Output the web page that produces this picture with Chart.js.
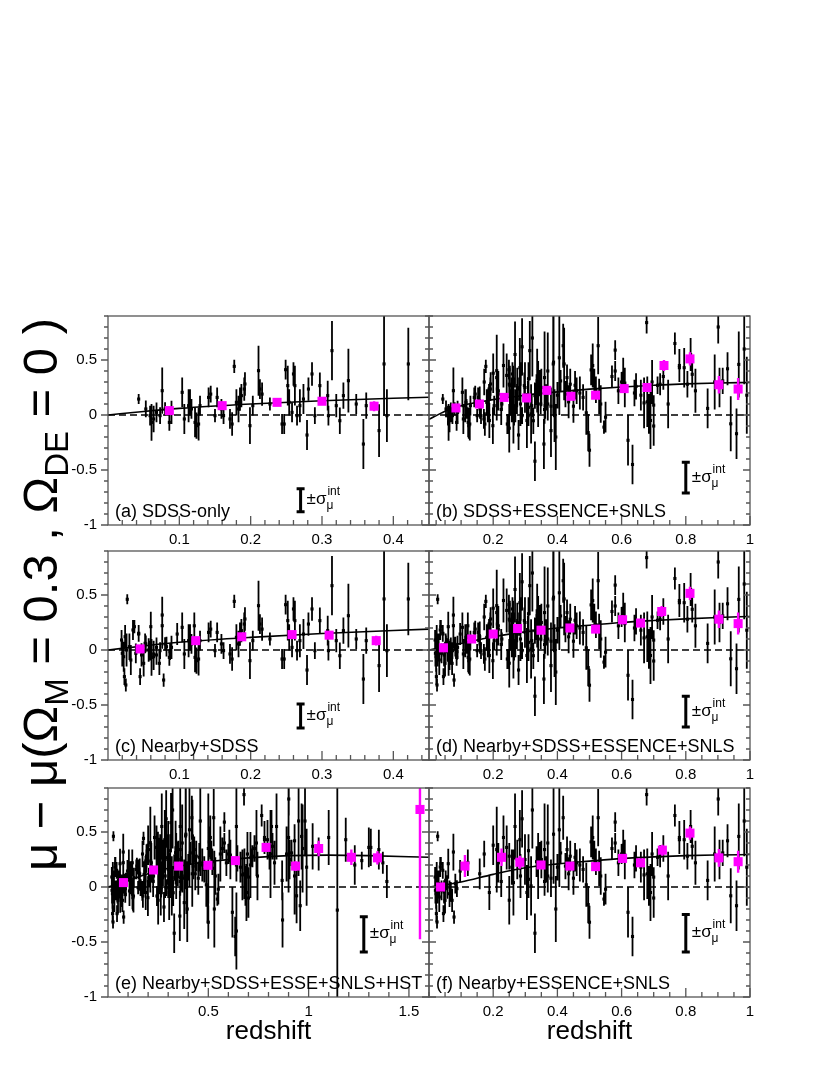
<!DOCTYPE html>
<html>
<head>
<meta charset="utf-8">
<script src="https://cdn.jsdelivr.net/npm/chart.js@4.4.1/dist/chart.umd.min.js"></script>
<style>
body { margin: 0; background: #fff; }
#wrap { position: relative; width: 830px; height: 1075px; }
#wrap canvas { position: absolute; left: 0; top: 0; }
</style>
</head>
<body>
<div id="wrap">
  <canvas id="pa" width="830" height="1075"></canvas>
  <canvas id="pb" width="830" height="1075"></canvas>
  <canvas id="pc" width="830" height="1075"></canvas>
  <canvas id="pd" width="830" height="1075"></canvas>
  <canvas id="pe" width="830" height="1075"></canvas>
  <canvas id="pf" width="830" height="1075"></canvas>
</div>
<script>
// samples: [redshift, mu residual, error]
const nearby = [
  [0.019,0.091,0.09],[0.020,-0.03,0.12],[0.022,-0.061,0.136],[0.023,-0.242,0.076],[0.024,0.121,0.106],
  [0.025,-0.318,0.06],[0.026,0.0,0.15],[0.027,0.461,0.045],[0.030,0.03,0.12],[0.032,-0.091,0.136],
  [0.035,0.182,0.09],[0.037,0.212,0.06],[0.039,-0.03,0.09],[0.043,0.152,0.076],[0.045,-0.242,0.076],
  [0.047,-0.045,0.106],[0.050,-0.121,0.12],[0.052,0.061,0.09],[0.057,0.0,0.106],[0.060,0.212,0.136],
  [0.064,-0.061,0.12],[0.068,-0.045,0.09],[0.072,-0.121,0.106],[0.076,0.318,0.167],[0.078,-0.273,0.06],
  [0.082,0.03,0.09],[0.087,-0.015,0.076],[0.097,0.145,0.10],[0.121,0.22,0.12]
];
const sdss = [
  [0.043,0.145,0.045],[0.053,0.055,0.076],[0.059,-0.006,0.09],[0.061,-0.067,0.167],[0.064,-0.036,0.12],
  [0.068,0.024,0.09],[0.073,-0.006,0.076],[0.076,0.221,0.21],[0.080,0.055,0.06],[0.086,-0.067,0.076],
  [0.089,0.024,0.106],[0.104,0.206,0.136],[0.107,-0.036,0.136],[0.113,0.085,0.15],[0.115,0.115,0.12],
  [0.117,0.055,0.09],[0.122,-0.067,0.136],[0.124,-0.097,0.12],[0.127,-0.082,0.15],[0.129,0.085,0.09],
  [0.141,0.16,0.09],[0.144,0.19,0.076],[0.150,-0.006,0.06],[0.153,0.16,0.09],[0.159,0.055,0.09],
  [0.162,-0.006,0.076],[0.171,-0.036,0.09],[0.174,-0.082,0.106],[0.177,0.442,0.06],[0.180,0.115,0.12],
  [0.183,0.055,0.12],[0.185,0.145,0.106],[0.187,0.176,0.106],[0.191,0.236,0.106],[0.192,0.282,0.106],
  [0.199,-0.097,0.167],[0.203,0.085,0.09],[0.211,0.403,0.227],[0.213,0.236,0.09],[0.216,0.19,0.106],
  [0.227,0.1,0.06],[0.244,-0.082,0.09],[0.247,-0.082,0.09],[0.249,0.412,0.09],[0.252,0.267,0.18],
  [0.254,0.115,0.12],[0.258,0.024,0.09],[0.260,0.373,0.106],[0.262,0.267,0.18],[0.265,-0.006,0.09],
  [0.269,0.085,0.15],[0.274,0.145,0.136],[0.279,-0.182,0.136],[0.281,0.236,0.106],[0.286,0.373,0.106],
  [0.290,-0.006,0.076],[0.297,0.267,0.12],[0.308,0.176,0.136],[0.309,-0.006,0.09],[0.314,0.585,0.27],
  [0.320,0.085,0.106],[0.325,-0.052,0.12],[0.330,0.176,0.12],[0.337,0.312,0.29],[0.348,0.1,0.09],
  [0.358,-0.264,0.227],[0.362,0.085,0.12],[0.380,-0.142,0.24],[0.387,0.464,0.47],[0.391,-0.006,0.24],
  [0.421,0.464,0.33]
];
const essence = [
  [0.158,0.12,0.14],[0.172,0.30,0.12],[0.188,-0.05,0.16],[0.200,0.38,0.18],[0.211,0.34,0.39],
  [0.216,0.22,0.18],[0.225,0.05,0.14],[0.232,0.45,0.20],[0.242,0.36,0.20],[0.250,-0.12,0.22],
  [0.258,0.18,0.16],[0.263,0.04,0.30],[0.268,0.55,0.30],[0.275,0.25,0.18],[0.283,0.43,0.27],
  [0.290,0.62,0.26],[0.299,0.25,0.23],[0.305,-0.05,0.25],[0.310,0.07,0.17],[0.318,0.01,0.27],
  [0.322,0.70,0.35],[0.330,-0.42,0.18],[0.335,0.23,0.14],[0.340,0.19,0.30],[0.345,0.29,0.12],
  [0.350,0.25,0.17],[0.360,0.34,0.42],[0.365,0.16,0.12],[0.370,0.10,0.15],[0.380,0.08,0.17],
  [0.388,0.48,0.45],[0.395,-0.20,0.30],[0.406,0.52,0.52],[0.410,0.31,0.10],[0.418,0.63,0.20],
  [0.425,0.19,0.12],[0.435,0.12,0.15],[0.440,0.28,0.14],[0.450,0.08,0.15],[0.460,0.22,0.12],
  [0.480,0.16,0.12],[0.496,-0.16,0.17],[0.500,-0.32,0.15],[0.505,0.41,0.14],[0.510,0.45,0.20],
  [0.515,0.30,0.12],[0.527,0.63,0.26],[0.535,0.10,0.17],[0.545,-0.11,0.06],[0.580,0.59,0.09],
  [0.610,0.29,0.14],[0.640,0.20,0.12],[0.680,0.12,0.23],[0.700,-0.10,0.18],[0.720,0.28,0.10],
  [0.780,0.45,0.15]
];
const snls = [
  [0.250,0.28,0.12],[0.285,0.10,0.20],[0.310,0.33,0.15],[0.340,0.22,0.10],[0.360,0.05,0.12],
  [0.370,0.40,0.35],[0.400,0.18,0.12],[0.430,0.34,0.12],[0.455,0.27,0.13],[0.470,0.20,0.15],
  [0.490,0.02,0.20],[0.520,0.23,0.12],[0.530,0.17,0.16],[0.550,-0.02,0.14],[0.570,0.35,0.10],
  [0.580,0.40,0.09],[0.590,0.22,0.12],[0.600,0.30,0.09],[0.605,0.38,0.14],[0.610,0.24,0.17],
  [0.620,-0.23,0.23],[0.634,-0.45,0.18],[0.645,0.26,0.12],[0.660,0.18,0.14],[0.670,0.11,0.23],
  [0.678,0.84,0.10],[0.685,0.01,0.18],[0.690,-0.05,0.26],[0.695,0.30,0.20],[0.700,0.09,0.09],
  [0.712,0.27,0.08],[0.730,0.35,0.12],[0.745,0.10,0.22],[0.766,0.65,0.10],[0.780,0.43,0.10],
  [0.795,0.43,0.18],[0.805,0.28,0.12],[0.815,0.55,0.15],[0.820,0.37,0.12],[0.830,0.22,0.20],
  [0.868,0.06,0.18],[0.890,0.30,0.25],[0.901,0.80,0.15],[0.905,0.25,0.18],[0.915,0.31,0.12],
  [0.930,0.42,0.15],[0.940,-0.08,0.25],[0.958,-0.17,0.23],[0.965,0.46,0.30],[0.982,0.60,0.32],
  [0.990,0.18,0.35]
];
const hst = [
  [0.30,0.25,0.35],[0.36,0.55,0.40],[0.42,0.12,0.30],[0.46,0.60,0.45],[0.50,0.35,0.50],
  [0.53,-0.20,0.35],[0.56,0.30,0.25],[0.64,-0.40,0.35],[0.64,0.55,0.50],[0.71,0.20,0.30],
  [0.74,0.40,0.30],[0.81,0.30,0.40],[0.84,0.55,0.30],[0.87,-0.30,0.25],[0.90,0.45,0.50],
  [0.93,0.10,0.35],[0.95,0.60,0.50],[0.97,0.35,0.40],[1.02,0.37,0.21],[1.05,0.30,0.15],
  [1.10,0.45,0.25],[1.143,-0.21,1.2],[1.185,0.43,0.20],[1.23,0.20,0.18],[1.265,0.24,0.08],
  [1.30,0.36,0.18],[1.31,0.36,0.17],[1.35,0.34,0.18],[1.37,0.22,0.10],[1.39,0.05,0.15],
  [1.555,0.70,0.25]
];

// binned averages (magenta): [redshift, mean, error]
const binsA = [[0.086,0.04,0.02],[0.16,0.085,0.02],[0.237,0.115,0.02],[0.30,0.125,0.025],[0.373,0.08,0.045]];
const binsB = [[0.084,0.064,0.02],[0.157,0.10,0.02],[0.234,0.16,0.02],[0.304,0.155,0.02],[0.367,0.224,0.02],
  [0.442,0.17,0.025],[0.519,0.18,0.025],[0.608,0.24,0.035],[0.679,0.25,0.035],[0.732,0.45,0.05],
  [0.813,0.51,0.06],[0.903,0.275,0.08],[0.963,0.236,0.1]];
const binsC = [[0.045,0.01,0.015],[0.123,0.085,0.02],[0.1875,0.12,0.02],[0.258,0.14,0.02],[0.31,0.135,0.025],[0.376,0.085,0.045]];
const binsD = [[0.045,0.02,0.015],[0.133,0.10,0.02],[0.20,0.145,0.02],[0.276,0.195,0.02],[0.349,0.18,0.02],
  [0.439,0.20,0.025],[0.519,0.19,0.025],[0.603,0.275,0.04],[0.659,0.245,0.03],[0.725,0.35,0.05],
  [0.813,0.515,0.06],[0.903,0.28,0.08],[0.963,0.24,0.1]];
const binsE = [[0.077,0.04,0.015],[0.227,0.155,0.02],[0.352,0.19,0.02],[0.498,0.197,0.025],[0.635,0.24,0.03],
  [0.788,0.36,0.04],[0.935,0.19,0.045],[1.05,0.35,0.07],[1.213,0.27,0.07],[1.343,0.265,0.06],[1.555,0.705,1.18]];
const binsF = [[0.036,0.0,0.015],[0.112,0.19,0.1],[0.226,0.27,0.08],[0.283,0.225,0.06],[0.349,0.2,0.03],
  [0.439,0.19,0.03],[0.519,0.185,0.03],[0.603,0.26,0.04],[0.659,0.22,0.03],[0.727,0.335,0.05],
  [0.813,0.49,0.06],[0.903,0.265,0.08],[0.963,0.23,0.1]];

// best fit curves
const curveAz = [0, 0.05, 0.1, 0.2, 0.3, 0.45];
const curveAmu = [0, 0.032, 0.06, 0.1, 0.13, 0.162];
const curveCmu = [0, 0.037, 0.07, 0.115, 0.15, 0.19];
const curveBz = [0, 0.05, 0.1, 0.2, 0.3, 0.4, 0.5, 0.6, 0.7, 0.8, 0.9, 1.0];
const curveBmu = [-0.04, 0.035, 0.085, 0.14, 0.18, 0.21, 0.235, 0.255, 0.27, 0.283, 0.291, 0.296];
const curveDmu = [0, 0.03, 0.06, 0.12, 0.165, 0.2, 0.225, 0.25, 0.268, 0.283, 0.295, 0.305];
const curveFmu = [0, 0.02, 0.045, 0.115, 0.175, 0.21, 0.235, 0.258, 0.274, 0.285, 0.291, 0.295];
const curveEz = [0, 0.1, 0.2, 0.3, 0.5, 0.7, 0.9, 1.1, 1.3, 1.6];
const curveEmu = [0, 0.06, 0.12, 0.17, 0.23, 0.265, 0.285, 0.29, 0.285, 0.27];

// sigma_int marker: [redshift, centre, half length]
const sigA = [0.27, -0.775, 0.105];
const sigB = [0.80, -0.57, 0.14];
const sigC = [0.27, -0.60, 0.11];
const sigD = [0.80, -0.56, 0.14];
const sigE = [1.275, -0.43, 0.16];
const sigF = [0.80, -0.42, 0.17];

// tick labels
const xTicksLow = [0.1, 0.2, 0.3, 0.4];
const xTicksMid = [0.2, 0.4, 0.6, 0.8, 1];
const xTicksHigh = [0.5, 1, 1.5];
const yTicks = [-1, -0.5, 0, 0.5];

const FAM = '"Liberation Sans", Arial, Helvetica, sans-serif';
const colLeft = [108, 429], colRight = [429, 750];
const rowTop = [316, 551, 788], rowBottom = [525, 760, 997];
const X_H = 24, Y_W = 40;

const panels = [
  {id:'pa', col:0, row:0, xMax:0.45, samples:[sdss], bins:binsA, cz:curveAz, cmu:curveAmu, sig:sigA, xTicks:xTicksLow, minor:0.02, label:'(a) SDSS-only', title:true},
  {id:'pb', col:1, row:0, xMax:1.0, samples:[sdss, essence, snls], bins:binsB, cz:curveBz, cmu:curveBmu, sig:sigB, xTicks:xTicksMid, minor:0.05, label:'(b) SDSS+ESSENCE+SNLS'},
  {id:'pc', col:0, row:1, xMax:0.45, samples:[nearby, sdss], bins:binsC, cz:curveAz, cmu:curveCmu, sig:sigC, xTicks:xTicksLow, minor:0.02, label:'(c) Nearby+SDSS'},
  {id:'pd', col:1, row:1, xMax:1.0, samples:[nearby, sdss, essence, snls], bins:binsD, cz:curveBz, cmu:curveDmu, sig:sigD, xTicks:xTicksMid, minor:0.05, label:'(d) Nearby+SDSS+ESSENCE+SNLS'},
  {id:'pe', col:0, row:2, xMax:1.6, samples:[nearby, sdss, essence, snls, hst], bins:binsE, cz:curveEz, cmu:curveEmu, sig:sigE, xTicks:xTicksHigh, minor:0.1, label:'(e) Nearby+SDSS+ESSE+SNLS+HST', xtitle:true},
  {id:'pf', col:1, row:2, xMax:1.0, samples:[nearby, essence, snls], bins:binsF, cz:curveBz, cmu:curveFmu, sig:sigF, xTicks:xTicksMid, minor:0.05, label:'(f) Nearby+ESSENCE+SNLS', xtitle:true}
];

const errorBars = {
  id: 'errorBars',
  beforeDatasetDraw(chart, args) {
    const ds = chart.data.datasets[args.index];
    if (!ds.errs) return;
    const ctx = chart.ctx, xs = chart.scales.x, ys = chart.scales.y, a = chart.chartArea;
    ctx.save();
    ctx.beginPath();
    ctx.rect(a.left, a.top, a.right - a.left, a.bottom - a.top);
    ctx.clip();
    ctx.strokeStyle = ds.errColor;
    ctx.lineWidth = ds.errWidth;
    ctx.beginPath();
    ds.data.forEach((d, i) => {
      const px = xs.getPixelForValue(d.x);
      ctx.moveTo(px, ys.getPixelForValue(d.y + ds.errs[i]));
      ctx.lineTo(px, ys.getPixelForValue(d.y - ds.errs[i]));
    });
    ctx.stroke();
    ctx.restore();
  }
};

const frameDeco = {
  id: 'frameDeco',
  afterDraw(chart) {
    const p = chart.options.plugins.frameDeco.panel;
    const ctx = chart.ctx, xs = chart.scales.x, ys = chart.scales.y, a = chart.chartArea;
    ctx.save();
    // frame
    ctx.strokeStyle = '#555';
    ctx.lineWidth = 1.3;
    ctx.strokeRect(a.left, a.top, a.right - a.left, a.bottom - a.top);
    // x ticks (inside, from bottom)
    ctx.beginPath();
    const nx = Math.round(p.xMax / p.minor);
    for (let i = 1; i <= nx; i++) {
      const v = i * p.minor;
      const major = p.xTicks.some(t => Math.abs(t - v) < 1e-6);
      const px = xs.getPixelForValue(v);
      ctx.moveTo(px, a.bottom);
      ctx.lineTo(px, a.bottom - (major ? 9 : 5));
    }
    // y ticks left and right
    for (let i = -10; i <= 9; i++) {
      const v = i / 10;
      const major = i % 5 === 0;
      const py = ys.getPixelForValue(v);
      const len = major ? 7 : 4;
      if (p.col === 0) { ctx.moveTo(a.left, py); ctx.lineTo(a.left - len, py); }
      else { ctx.moveTo(a.left, py); ctx.lineTo(a.left + len, py); }
      ctx.moveTo(a.right, py); ctx.lineTo(a.right - len, py);
    }
    ctx.stroke();

    // sigma_int marker
    const sx = xs.getPixelForValue(p.sig[0]);
    const st = ys.getPixelForValue(p.sig[1] + p.sig[2]);
    const sb = ys.getPixelForValue(p.sig[1] - p.sig[2]);
    ctx.strokeStyle = '#000';
    ctx.lineWidth = 3;
    ctx.beginPath();
    ctx.moveTo(sx, st); ctx.lineTo(sx, sb);
    ctx.moveTo(sx - 4, st); ctx.lineTo(sx + 4, st);
    ctx.moveTo(sx - 4, sb); ctx.lineTo(sx + 4, sb);
    ctx.stroke();
    ctx.fillStyle = '#000';
    ctx.textBaseline = 'alphabetic';
    ctx.textAlign = 'left';
    const ty = ys.getPixelForValue(p.sig[1]) + 4;
    ctx.font = '17px ' + FAM;
    ctx.fillText('\u00b1\u03c3', sx + 6, ty);
    const w = ctx.measureText('\u00b1\u03c3').width;
    ctx.font = '12px ' + FAM;
    ctx.fillText('\u03bc', sx + 6 + w, ty + 5);
    ctx.fillText('int', sx + 6 + w + 1, ty - 9);

    // panel label
    ctx.font = '18px ' + FAM;
    ctx.fillText(p.label, a.left + 7, a.bottom - 8);

    // x title
    if (p.xtitle) {
      ctx.font = '26px ' + FAM;
      ctx.textAlign = 'center';
      ctx.textBaseline = 'middle';
      ctx.fillText('redshift', (a.left + a.right) / 2, 1032);
    }

    // y title
    if (p.title) {
      const parts = [['\u03bc \u2212 \u03bc(\u03a9', 0], ['M', 1], [' = 0.3 , \u03a9', 0], ['DE', 1], [' = 0 )', 0]];
      const big = '49px ' + FAM, small = '33px ' + FAM;
      let total = 0;
      parts.forEach(pt => { ctx.font = pt[1] ? small : big; total += ctx.measureText(pt[0]).width; });
      ctx.translate(57, 318 + total);
      ctx.rotate(-Math.PI / 2);
      ctx.textAlign = 'left';
      ctx.textBaseline = 'alphabetic';
      let x = 0;
      parts.forEach(pt => {
        ctx.font = pt[1] ? small : big;
        ctx.fillText(pt[0], x, pt[1] ? 11 : 0);
        x += ctx.measureText(pt[0]).width;
      });
    }
    ctx.restore();
  }
};

function makePanel(p) {
  const left = colLeft[p.col], right = colRight[p.col];
  const top = rowTop[p.row], bottom = rowBottom[p.row];
  const pts = [].concat(...p.samples);
  const yShown = p.col === 0;
  const datasets = [
    {
      type: 'scatter', order: 3,
      data: pts.map(d => ({x: d[0], y: d[1]})),
      errs: pts.map(d => d[2]), errColor: '#000', errWidth: 1.8,
      pointStyle: 'rect', pointRadius: 2.2, backgroundColor: '#000', borderWidth: 0
    },
    {
      type: 'line', order: 1, showLine: true,
      data: p.cz.map((z, i) => ({x: z, y: p.cmu[i]})),
      borderColor: '#000', borderWidth: 1.6, pointRadius: 0, cubicInterpolationMode: 'monotone'
    },
    {
      type: 'line', order: 2, showLine: true,
      data: [{x: 0, y: 0}, {x: p.xMax, y: 0}],
      borderColor: '#000', borderWidth: 1.4, borderDash: [7, 4], pointRadius: 0
    },
    {
      type: 'scatter', order: 0,
      data: p.bins.map(d => ({x: d[0], y: d[1]})),
      errs: p.bins.map(d => d[2]), errColor: '#ff00ff', errWidth: 2.4,
      pointStyle: 'rect', pointRadius: 6.4, backgroundColor: '#ff00ff', borderWidth: 0
    }
  ];
  new Chart(document.getElementById(p.id), {
    type: 'scatter',
    data: { datasets },
    options: {
      responsive: false,
      animation: false,
      devicePixelRatio: 1,
      events: [],
      layout: { padding: { left: yShown ? left - Y_W : left, right: 830 - right, top: top, bottom: 1075 - bottom - X_H } },
      plugins: { legend: { display: false }, tooltip: { enabled: false }, frameDeco: { panel: p } },
      scales: {
        x: {
          type: 'linear', min: 0, max: p.xMax, position: 'bottom',
          grid: { display: false, drawTicks: false }, border: { display: false },
          afterBuildTicks: ax => { ax.ticks = p.xTicks.map(v => ({value: v})); },
          afterFit: ax => { ax.height = X_H; },
          ticks: { autoSkip: false, maxRotation: 0, padding: 6, color: '#000', font: { family: FAM, size: 15 }, callback: v => String(v) }
        },
        y: {
          type: 'linear', min: -1, max: 0.9, position: 'left', display: yShown,
          grid: { display: false, drawTicks: false }, border: { display: false },
          afterBuildTicks: ax => { ax.ticks = yTicks.map(v => ({value: v})); },
          afterFit: ax => { if (yShown) ax.width = Y_W; },
          ticks: { autoSkip: false, padding: 11, color: '#000', font: { family: FAM, size: 15 }, callback: v => String(v) }
        }
      }
    },
    plugins: [errorBars, frameDeco]
  });
}

panels.forEach(makePanel);
</script>
</body>
</html>
